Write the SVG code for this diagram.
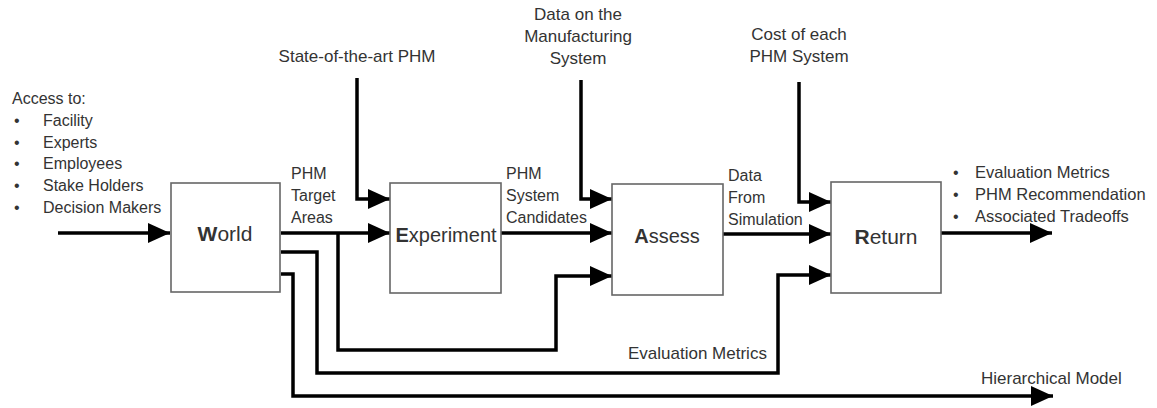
<svg xmlns="http://www.w3.org/2000/svg" width="1157" height="408" viewBox="0 0 1157 408">
  <style>
    text { font-family: "Liberation Sans", Arial, sans-serif; fill: #333; font-size: 16px; }
    .top { font-size: 17px; text-anchor: middle; }
    .lbl17 { font-size: 17px; }
    .node rect { fill: #fff; stroke: #666; stroke-width: 1.6; }
    .node text { font-size: 20px; text-anchor: middle; }
    .node tspan.b { font-weight: bold; }
    .conn path { fill: none; stroke: #000; stroke-width: 3.5; }
    .arr { marker-end: url(#ah); }
  </style>
  <defs>
    <marker id="ah" viewBox="0 0 22 20" refX="22" refY="10" markerWidth="22" markerHeight="20" markerUnits="userSpaceOnUse" orient="auto">
      <path d="M0,0 L22,10 L0,20 z" fill="#000"/>
    </marker>
  </defs>
  <rect width="1157" height="408" fill="#fff"/>

  <g id="connectors" class="conn">
    <path class="arr" d="M58,233 H170"/>
    <path class="arr" d="M281,233 H390"/>
    <path class="arr" d="M357,78 V199 H390"/>
    <path class="arr" d="M338,233 V350 H556 V276 H612"/>
    <path class="arr" d="M281,252 H317 V373 H778 V275 H831"/>
    <path class="arr" d="M281,274 H293 V396 H1053"/>
    <path class="arr" d="M501,233 H612"/>
    <path class="arr" d="M581,80 V199 H612"/>
    <path class="arr" d="M723,234 H831"/>
    <path class="arr" d="M799,82 V202 H831"/>
    <path class="arr" d="M941,233 H1052"/>
  </g>

  <g id="world" class="node">
    <rect x="171" y="183" width="109" height="109"/>
    <text x="225" y="241" style="font-size:21px"><tspan class="b">W</tspan>orld</text>
  </g>
  <g id="experiment" class="node">
    <rect x="390" y="183" width="111" height="110"/>
    <text x="446" y="242"><tspan class="b">E</tspan>xperiment</text>
  </g>
  <g id="assess" class="node">
    <rect x="612" y="184" width="111" height="111"/>
    <text x="667" y="243"><tspan class="b">A</tspan>ssess</text>
  </g>
  <g id="return" class="node">
    <rect x="831" y="182" width="110" height="111"/>
    <text x="886" y="244" style="font-size:21px"><tspan class="b">R</tspan>eturn</text>
  </g>

  <g id="labels">
    <text x="12" y="104">Access to:</text>
    <text x="14" y="126">•</text><text x="43" y="126">Facility</text>
    <text x="14" y="148">•</text><text x="43" y="148">Experts</text>
    <text x="14" y="169">•</text><text x="43" y="169">Employees</text>
    <text x="14" y="191">•</text><text x="43" y="191">Stake Holders</text>
    <text x="14" y="213">•</text><text x="43" y="213">Decision Makers</text>

    <text class="top" x="357" y="62">State-of-the-art PHM</text>
    <text class="top" x="578" y="20">Data on the</text>
    <text class="top" x="578" y="42">Manufacturing</text>
    <text class="top" x="578" y="64">System</text>
    <text class="top" x="799" y="40">Cost of each</text>
    <text class="top" x="799" y="62">PHM System</text>

    <text x="291" y="179">PHM</text>
    <text x="291" y="201">Target</text>
    <text x="291" y="223">Areas</text>

    <text x="506" y="179">PHM</text>
    <text x="506" y="201">System</text>
    <text x="506" y="223">Candidates</text>

    <text x="728" y="181">Data</text>
    <text x="728" y="203">From</text>
    <text x="728" y="225">Simulation</text>

    <text x="953" y="178">•</text><text x="975" y="178" style="font-size:16.5px">Evaluation Metrics</text>
    <text x="953" y="200">•</text><text x="975" y="200" style="font-size:16.5px">PHM Recommendation</text>
    <text x="953" y="222">•</text><text x="975" y="222" style="font-size:16.5px">Associated Tradeoffs</text>

    <text class="lbl17" x="628" y="359">Evaluation Metrics</text>
    <text class="lbl17" x="981" y="384">Hierarchical Model</text>
  </g>
</svg>
